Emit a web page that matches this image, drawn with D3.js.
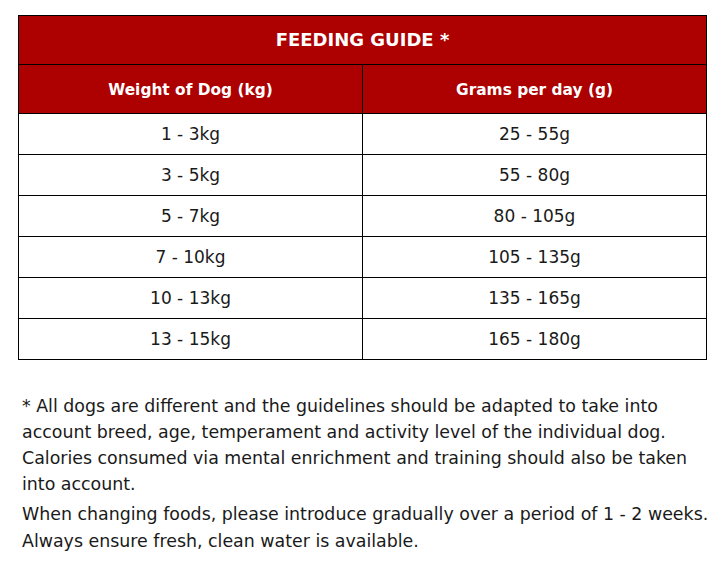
<!DOCTYPE html>
<html>
<head>
<meta charset="utf-8">
<script src="https://cdn.jsdelivr.net/npm/d3@7"></script>
<style>
  body { margin: 0; background: #fff; }
  svg { display: block; font-family: "DejaVu Sans", sans-serif; }
</style>
</head>
<body>
<div id="chart"></div>
<script>
const title = "FEEDING GUIDE *";
const columns = ["Weight of Dog (kg)", "Grams per day (g)"];
const weights = ["1 - 3kg", "3 - 5kg", "5 - 7kg", "7 - 10kg", "10 - 13kg", "13 - 15kg"];
const grams = ["25 - 55g", "55 - 80g", "80 - 105g", "105 - 135g", "135 - 165g", "165 - 180g"];
const notes = [
    "* All dogs are different and the guidelines should be adapted to take into",
    "account breed, age, temperament and activity level of the individual dog.",
    "Calories consumed via mental enrichment and training should also be taken",
    "into account."
];
const notes2 = [
    "When changing foods, please introduce gradually over a period of 1 - 2 weeks.",
    "Always ensure fresh, clean water is available."
];

const width = 724, height = 568;
const red = "#ad0000", ink = "#1a1a1a";
const tLeft = 18.5, tRight = 706.5, tTop = 15.5;

const svg = d3.select("#chart").append("svg")
    .attr("width", width)
    .attr("height", height);

const x = d3.scaleBand()
    .domain(columns)
    .range([tLeft, tRight]);

const y = d3.scaleBand()
    .domain(d3.range(weights.length))
    .range([113.5, 359.5]);

const headH = 49;

// title row
svg.append("rect")
    .attr("x", tLeft).attr("y", tTop)
    .attr("width", tRight - tLeft).attr("height", headH)
    .attr("fill", red);

svg.append("text")
    .attr("x", (tLeft + tRight) / 2)
    .attr("y", tTop + headH / 2)
    .attr("dy", "0.36em")
    .attr("text-anchor", "middle")
    .attr("fill", "#fff")
    .attr("font-weight", "bold")
    .attr("font-size", 18)
    .text(title);

// column headers
svg.append("rect")
    .attr("x", tLeft).attr("y", tTop + headH)
    .attr("width", tRight - tLeft).attr("height", headH)
    .attr("fill", red);

svg.selectAll(".colhead")
    .data(columns)
    .enter().append("text")
    .attr("class", "colhead")
    .attr("x", d => x(d) + x.bandwidth() / 2)
    .attr("y", tTop + headH * 1.5)
    .attr("dy", "0.36em")
    .attr("text-anchor", "middle")
    .attr("fill", "#fff")
    .attr("font-weight", "bold")
    .attr("font-size", 15.4)
    .text(d => d);

// body cells
const rows = weights.map((w, i) => ({ i, cells: [w, grams[i]] }));

const cellG = svg.append("g");
rows.forEach(r => {
    r.cells.forEach((c, j) => {
        cellG.append("text")
            .attr("x", x(columns[j]) + x.bandwidth() / 2)
            .attr("y", y(r.i) + y.bandwidth() / 2)
            .attr("dy", "0.36em")
            .attr("text-anchor", "middle")
            .attr("fill", ink)
            .attr("font-size", 17)
            .text(c);
    });
});

// grid lines
const grid = svg.append("g")
    .attr("stroke", "#000")
    .attr("stroke-width", 1)
    .attr("fill", "none");

grid.append("rect")
    .attr("x", tLeft).attr("y", tTop)
    .attr("width", tRight - tLeft)
    .attr("height", y.range()[1] - tTop);

grid.append("line")
    .attr("x1", tLeft).attr("x2", tRight)
    .attr("y1", tTop + headH).attr("y2", tTop + headH);

grid.selectAll(".hline")
    .data(d3.range(weights.length))
    .enter().append("line")
    .attr("x1", tLeft).attr("x2", tRight)
    .attr("y1", d => y(d)).attr("y2", d => y(d));

grid.append("line")
    .attr("x1", x(columns[1])).attr("x2", x(columns[1]))
    .attr("y1", tTop + headH).attr("y2", y.range()[1]);

// footnotes
svg.selectAll(".note")
    .data(notes)
    .enter().append("text")
    .attr("x", 22)
    .attr("y", (d, i) => 412 + i * 26)
    .attr("fill", ink)
    .attr("font-size", 17.4)
    .text(d => d);

svg.selectAll(".note2")
    .data(notes2)
    .enter().append("text")
    .attr("x", 22)
    .attr("y", (d, i) => 520 + i * 26.5)
    .attr("fill", ink)
    .attr("font-size", 17.4)
    .text(d => d);
</script>
</body>
</html>
